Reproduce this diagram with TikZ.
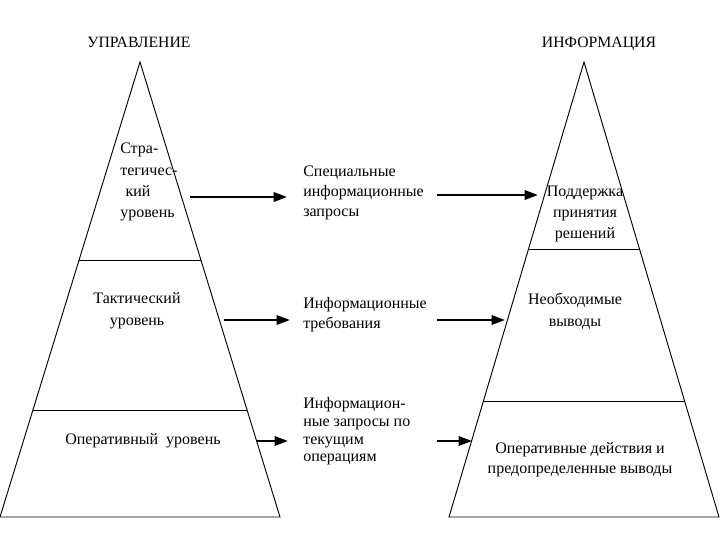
\documentclass[tikz,border=0pt]{standalone}
\usepackage{fontspec}
\setmainfont{Liberation Serif}
\usetikzlibrary{arrows.meta,calc}
\begin{document}
\begin{tikzpicture}[x=0.75pt,y=-0.75pt,
  edge/.style={line width=0.7pt,line join=miter},
  arr/.style={line width=1.7pt,-{Triangle[length=10pt,width=7pt]}},
  lbl/.style={inner sep=0pt,font=\fontsize{12}{15}\selectfont},
  ttl/.style={inner sep=0pt,anchor=base,font=\fontsize{11.8}{13}\selectfont}]
\useasboundingbox (0,0) rectangle (720,540);
% left pyramid
\coordinate (LA) at (140,62);
\coordinate (LL) at (0,517);
\coordinate (LR) at (280,517);
\draw[edge] (LL) -- (LA) -- (LR) -- cycle;
\draw[edge] ($(LA)!0.4352!(LL)$) coordinate (L1a) -- ($(LA)!0.4352!(LR)$) coordinate (L1b);
\draw[edge] ($(LA)!0.7648!(LL)$) coordinate (L2a) -- ($(LA)!0.7648!(LR)$) coordinate (L2b);
% right pyramid
\coordinate (RA) at (584,62);
\coordinate (RL) at (449,517);
\coordinate (RR) at (719,517);
\draw[edge] (RL) -- (RA) -- (RR) -- cycle;
\draw[edge] ($(RA)!0.411!(RL)$) coordinate (R1a) -- ($(RA)!0.411!(RR)$) coordinate (R1b);
\draw[edge] ($(RA)!0.745!(RL)$) coordinate (R2a) -- ($(RA)!0.745!(RR)$) coordinate (R2b);
% titles
\node[ttl] (t1) at (139,47.5) {УПРАВЛЕНИЕ};
\node[ttl] (t2) at (599,47.5) {ИНФОРМАЦИЯ};
% left texts
\node[lbl,anchor=west,align=left,font=\fontsize{12}{15.8}\selectfont] (s1) at (120,182) {Стра-\\тегичес-\\\hspace{4pt}кий\\уровень};
\node[lbl,align=center,font=\fontsize{12}{16.5}\selectfont] (s2) at (137,311) {Тактический\\уровень};
\node[lbl] (s3) at (143,441) {Оперативный\ \ уровень};
% middle texts
\node[lbl,anchor=west,align=left] (m1) at (303,193) {Специальные\\информационные\\запросы};
\node[lbl,anchor=west,align=left] (m2) at (303,315) {Информационные\\требования};
\node[lbl,anchor=west,align=left,font=\fontsize{12}{13.3}\selectfont] (m3) at (303,431.5) {Информацион-\\ные запросы по\\текущим\\операциям};
% right texts
\node[lbl,align=center,font=\fontsize{12}{16}\selectfont] (r1) at (585,214) {Поддержка\\принятия\\решений};
\node[lbl,align=center,font=\fontsize{12}{16.5}\selectfont] (r2) at (575,311) {Необходимые\\выводы};
\node[lbl,align=center] (r3) at (580,460) {Оперативные действия и\\предопределенные выводы};
% arrows
\coordinate (a1s) at (190,197); \coordinate (a1e) at (287,197);
\coordinate (a2s) at (437,195); \coordinate (a2e) at (538,195);
\coordinate (a3s) at (224,320); \coordinate (a3e) at (290,320);
\coordinate (a4s) at (437,320); \coordinate (a4e) at (505,320);
\coordinate (a5s) at (257,441); \coordinate (a5e) at (288,441);
\coordinate (a6s) at (437,441); \coordinate (a6e) at (472,441);
\draw[arr] (a1s) -- (a1e);
\draw[arr] (a2s) -- (a2e);
\draw[arr] (a3s) -- (a3e);
\draw[arr] (a4s) -- (a4e);
\draw[arr] (a5s) -- (a5e);
\draw[arr] (a6s) -- (a6e);
\end{tikzpicture}
\end{document}
